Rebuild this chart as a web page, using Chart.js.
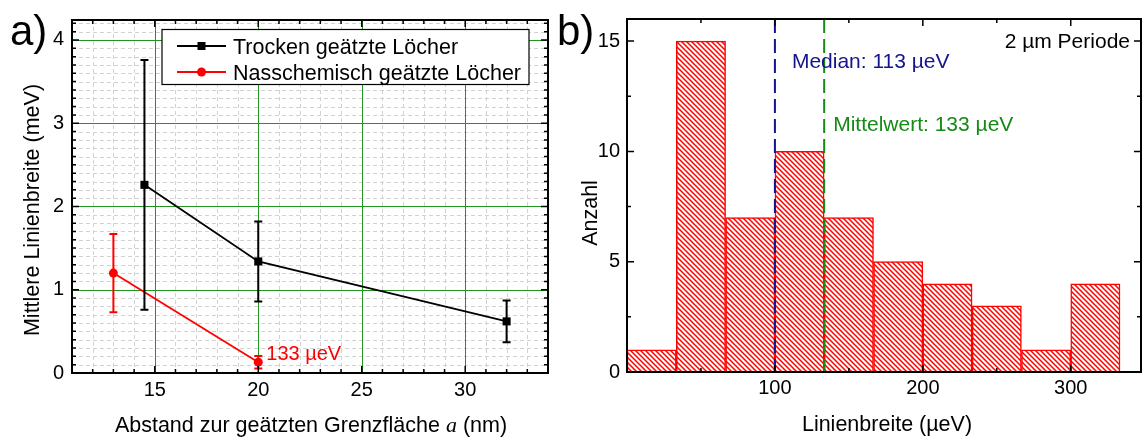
<!DOCTYPE html>
<html>
<head>
<meta charset="utf-8">
<script src="https://cdn.jsdelivr.net/npm/chart.js@4.4.0/dist/chart.umd.min.js"></script>
<style>
  body { margin: 0; background: #fff; }
  #wrap { position: relative; width: 1142px; height: 437px; overflow: hidden; background: #fff; }
  #chartA { position: absolute; left: 0; top: 0; }
  #chartB { position: absolute; left: 550px; top: 0; }
</style>
</head>
<body>
<div id="wrap">
  <canvas id="chartA" width="560" height="437"></canvas>
  <canvas id="chartB" width="592" height="437"></canvas>
</div>
<script>
// ---- panel a) data ----
const trockenX = [14.5, 20, 32];
const trockenY = [2.26, 1.34, 0.62];
const trockenErr = [1.5, 0.48, 0.25];
const nassX = [13, 20];
const nassY = [1.2, 0.13];
const nassErr = [0.47, 0.075];
const xTicksA = [15, 20, 25, 30];
const yTicksA = [0, 1, 2, 3, 4];

// ---- panel b) data ----
const binEdges = [0, 33.3, 66.7, 100, 133.3, 166.7, 200, 233.3, 266.7, 300, 333.3];
const histCounts = [1, 15, 7, 10, 7, 5, 4, 3, 1, 4];
const medianLine = 100;
const meanLine = 133.3;
const xTicksB = [100, 200, 300];
const yTicksB = [0, 5, 10, 15];

const FONT = '"Liberation Sans", Arial, Helvetica, sans-serif';
Chart.defaults.font.family = FONT;
Chart.defaults.color = '#000';

// frame with inward ticks on all four sides
function drawFrame(chart, xStep, xEvery, yStep, yEvery) {
  const { ctx, chartArea: a, scales: { x, y } } = chart;
  ctx.save();
  ctx.strokeStyle = '#000';
  ctx.lineWidth = 1.5;
  ctx.beginPath();
  for (let i = Math.ceil(x.min / xStep - 1e-6); i * xStep <= x.max + 1e-6; i++) {
    const px = x.getPixelForValue(i * xStep);
    const len = i % xEvery === 0 ? 7 : 4;
    ctx.moveTo(px, a.bottom); ctx.lineTo(px, a.bottom - len);
    ctx.moveTo(px, a.top); ctx.lineTo(px, a.top + len);
  }
  for (let i = Math.ceil(y.min / yStep - 1e-6); i * yStep <= y.max + 1e-6; i++) {
    const py = y.getPixelForValue(i * yStep);
    const len = i % yEvery === 0 ? 7 : 4;
    ctx.moveTo(a.left, py); ctx.lineTo(a.left + len, py);
    ctx.moveTo(a.right, py); ctx.lineTo(a.right - len, py);
  }
  ctx.stroke();
  ctx.lineWidth = 2;
  ctx.strokeRect(a.left, a.top, a.width, a.height);
  ctx.restore();
}

function drawMarker(ctx, style, x, y, color) {
  ctx.fillStyle = color;
  if (style === 'rect') {
    ctx.fillRect(x - 4, y - 4, 8, 8);
  } else {
    ctx.beginPath();
    ctx.arc(x, y, 4.5, 0, Math.PI * 2);
    ctx.fill();
  }
}

// ---- plugins for panel a) ----
const gridA = {
  id: 'gridA',
  beforeDatasetsDraw(chart) {
    const { ctx, chartArea: a, scales: { x, y } } = chart;
    ctx.save();
    ctx.lineWidth = 1;
    ctx.strokeStyle = '#d2d2d2';
    ctx.setLineDash([4, 3]);
    ctx.beginPath();
    for (let v = Math.ceil(x.min); v <= x.max; v++) {
      const px = Math.round(x.getPixelForValue(v)) + 0.5;
      ctx.moveTo(px, a.top); ctx.lineTo(px, a.bottom);
    }
    for (let i = 1; i / 10 < y.max; i++) {
      const py = Math.round(y.getPixelForValue(i / 10)) + 0.5;
      ctx.moveTo(a.left, py); ctx.lineTo(a.right, py);
    }
    ctx.stroke();
    ctx.setLineDash([]);
    ctx.strokeStyle = '#1f951f';
    ctx.beginPath();
    xTicksA.forEach(v => {
      const px = Math.round(x.getPixelForValue(v)) + 0.5;
      ctx.moveTo(px, a.top); ctx.lineTo(px, a.bottom);
    });
    yTicksA.filter(v => v > 0).forEach(v => {
      const py = Math.round(y.getPixelForValue(v)) + 0.5;
      ctx.moveTo(a.left, py); ctx.lineTo(a.right, py);
    });
    ctx.stroke();
    ctx.restore();
  }
};

const errorBars = {
  id: 'errorBars',
  afterDatasetsDraw(chart) {
    const { ctx, scales: { y } } = chart;
    ctx.save();
    ctx.lineWidth = 2;
    chart.data.datasets.forEach((ds, i) => {
      const meta = chart.getDatasetMeta(i);
      ctx.strokeStyle = ds.borderColor;
      ctx.beginPath();
      meta.data.forEach((pt, j) => {
        const v = ds.data[j].y, e = ds.errors[j];
        const top = y.getPixelForValue(v + e), bot = y.getPixelForValue(v - e);
        ctx.moveTo(pt.x, top); ctx.lineTo(pt.x, bot);
        ctx.moveTo(pt.x - 4, top); ctx.lineTo(pt.x + 4, top);
        ctx.moveTo(pt.x - 4, bot); ctx.lineTo(pt.x + 4, bot);
      });
      ctx.stroke();
    });
    ctx.restore();
  }
};

const decorA = {
  id: 'decorA',
  afterDraw(chart) {
    const { ctx } = chart;
    drawFrame(chart, 1, 5, 0.1, 10);
    ctx.save();
    // legend
    ctx.fillStyle = '#fff';
    ctx.fillRect(162, 29.5, 367, 55);
    ctx.strokeStyle = '#000';
    ctx.lineWidth = 1.2;
    ctx.strokeRect(162, 29.5, 367, 55);
    const rows = [46, 72];
    chart.data.datasets.forEach((ds, i) => {
      const ry = rows[i];
      ctx.strokeStyle = ds.borderColor;
      ctx.lineWidth = 2;
      ctx.beginPath();
      ctx.moveTo(177, ry); ctx.lineTo(226, ry);
      ctx.stroke();
      drawMarker(ctx, ds.pointStyle, 201.5, ry, ds.borderColor);
      ctx.fillStyle = '#000';
      ctx.font = '21.5px ' + FONT;
      ctx.textBaseline = 'alphabetic';
      ctx.textAlign = 'left';
      ctx.fillText(ds.label, 233, ry + 7.5);
    });
    // annotation next to last wet-etched point
    const last = chart.getDatasetMeta(1).data[nassX.length - 1];
    ctx.fillStyle = '#f00';
    ctx.font = '20px ' + FONT;
    ctx.fillText('133 µeV', last.x + 8, 360);
    // panel tag
    ctx.fillStyle = '#000';
    ctx.font = '42px ' + FONT;
    ctx.fillText('a)', 10, 45);
    // y title
    ctx.save();
    ctx.translate(39, 210);
    ctx.rotate(-Math.PI / 2);
    ctx.textAlign = 'center';
    ctx.font = '21.5px ' + FONT;
    ctx.fillText('Mittlere Linienbreite (meV)', 0, 0);
    ctx.restore();
    // x title with italic a
    const p1 = 'Abstand zur geätzten Grenzfläche ', p2 = 'a', p3 = ' (nm)';
    const fN = '21.5px ' + FONT, fI = 'italic 22px "Liberation Serif", "DejaVu Serif", serif';
    ctx.font = fN; const w1 = ctx.measureText(p1).width, w3 = ctx.measureText(p3).width;
    ctx.font = fI; const w2 = ctx.measureText(p2).width;
    const sx = 311 - (w1 + w2 + w3) / 2;
    ctx.textAlign = 'left';
    ctx.font = fN; ctx.fillText(p1, sx, 432);
    ctx.font = fI; ctx.fillText(p2, sx + w1, 432);
    ctx.font = fN; ctx.fillText(p3, sx + w1 + w2, 432);
    ctx.restore();
  }
};

new Chart(document.getElementById('chartA'), {
  type: 'scatter',
  data: {
    datasets: [
      {
        label: 'Trocken geätzte Löcher',
        data: trockenX.map((v, i) => ({ x: v, y: trockenY[i] })),
        errors: trockenErr,
        showLine: true,
        borderColor: '#000',
        backgroundColor: '#000',
        borderWidth: 1.8,
        pointStyle: 'rect',
        pointRadius: 5.7,
        pointBorderWidth: 0
      },
      {
        label: 'Nasschemisch geätzte Löcher',
        data: nassX.map((v, i) => ({ x: v, y: nassY[i] })),
        errors: nassErr,
        showLine: true,
        borderColor: '#f00',
        backgroundColor: '#f00',
        borderWidth: 1.8,
        pointStyle: 'circle',
        pointRadius: 4.5,
        pointBorderWidth: 0
      }
    ]
  },
  options: {
    responsive: false,
    animation: false,
    layout: { padding: { top: 20, right: 12, left: 0, bottom: 0 } },
    plugins: { legend: { display: false }, tooltip: { enabled: false } },
    scales: {
      x: {
        type: 'linear', min: 11, max: 34,
        grid: { display: false, drawTicks: false },
        border: { display: false },
        afterBuildTicks: s => { s.ticks = xTicksA.map(v => ({ value: v })); },
        afterFit: s => { s.height = 64; },
        ticks: { font: { size: 20 }, color: '#000', padding: 5, maxRotation: 0 }
      },
      y: {
        type: 'linear', min: 0, max: 4.24,
        grid: { display: false, drawTicks: false },
        border: { display: false },
        afterBuildTicks: s => { s.ticks = yTicksA.map(v => ({ value: v })); },
        afterFit: s => { s.width = 72; },
        ticks: { font: { size: 20 }, color: '#000', padding: 8 }
      }
    }
  },
  plugins: [gridA, errorBars, decorA]
});

// ---- panel b) ----
function makeHatch() {
  const c = document.createElement('canvas');
  c.width = 5; c.height = 5;
  const g = c.getContext('2d');
  g.fillStyle = '#fff';
  g.fillRect(0, 0, 5, 5);
  g.strokeStyle = '#f00';
  g.lineWidth = 1.5;
  g.beginPath();
  g.moveTo(-1, -1); g.lineTo(6, 6);
  g.moveTo(-1, 4); g.lineTo(1, 6);
  g.moveTo(4, -1); g.lineTo(6, 1);
  g.stroke();
  return g.createPattern(c, 'repeat');
}

const decorB = {
  id: 'decorB',
  afterDatasetsDraw(chart) {
    const { ctx, chartArea: a, scales: { x } } = chart;
    ctx.save();
    ctx.lineWidth = 2;
    ctx.setLineDash([14, 6]);
    [[medianLine, '#14148c'], [meanLine, '#158a15']].forEach(([v, col]) => {
      const px = x.getPixelForValue(v);
      ctx.strokeStyle = col;
      ctx.beginPath();
      ctx.moveTo(px, a.top); ctx.lineTo(px, a.bottom);
      ctx.stroke();
    });
    ctx.setLineDash([]);
    ctx.font = '21px ' + FONT;
    ctx.textAlign = 'left';
    ctx.fillStyle = '#14148c';
    ctx.fillText('Median: 113 µeV', x.getPixelForValue(medianLine) + 17, 68);
    ctx.fillStyle = '#158a15';
    ctx.fillText('Mittelwert: 133 µeV', x.getPixelForValue(meanLine) + 9, 131);
    ctx.restore();
  },
  afterDraw(chart) {
    const { ctx } = chart;
    drawFrame(chart, 50, 2, 2.5, 2);
    ctx.save();
    ctx.fillStyle = '#000';
    ctx.font = '21px ' + FONT;
    ctx.textAlign = 'right';
    ctx.fillText('2 µm Periode', 580, 48);
    ctx.textAlign = 'left';
    ctx.font = '42px ' + FONT;
    ctx.fillText('b)', 7, 45);
    ctx.textAlign = 'center';
    ctx.font = '21.5px ' + FONT;
    ctx.fillText('Linienbreite (µeV)', 337, 431);
    ctx.translate(47, 213);
    ctx.rotate(-Math.PI / 2);
    ctx.fillText('Anzahl', 0, 0);
    ctx.restore();
  }
};

new Chart(document.getElementById('chartB'), {
  type: 'bar',
  data: {
    datasets: [{
      label: '2 µm Periode',
      data: histCounts.map((c, i) => ({ x: (binEdges[i] + binEdges[i + 1]) / 2, y: c })),
      backgroundColor: makeHatch(),
      borderColor: '#f00',
      borderWidth: 1.5,
      barPercentage: 1,
      categoryPercentage: 1
    }]
  },
  options: {
    responsive: false,
    animation: false,
    layout: { padding: { top: 19, right: 1, left: 0, bottom: 0 } },
    plugins: { legend: { display: false }, tooltip: { enabled: false } },
    scales: {
      x: {
        type: 'linear', min: 0, max: 347.5, offset: false,
        grid: { display: false, drawTicks: false },
        border: { display: false },
        afterBuildTicks: s => { s.ticks = xTicksB.map(v => ({ value: v })); },
        afterFit: s => { s.height = 65; },
        ticks: { font: { size: 20 }, color: '#000', padding: 4, maxRotation: 0 }
      },
      y: {
        type: 'linear', min: 0, max: 16,
        grid: { display: false, drawTicks: false },
        border: { display: false },
        afterBuildTicks: s => { s.ticks = yTicksB.map(v => ({ value: v })); },
        afterFit: s => { s.width = 77; },
        ticks: { font: { size: 20 }, color: '#000', padding: 7 }
      }
    }
  },
  plugins: [decorB]
});
</script>
</body>
</html>
